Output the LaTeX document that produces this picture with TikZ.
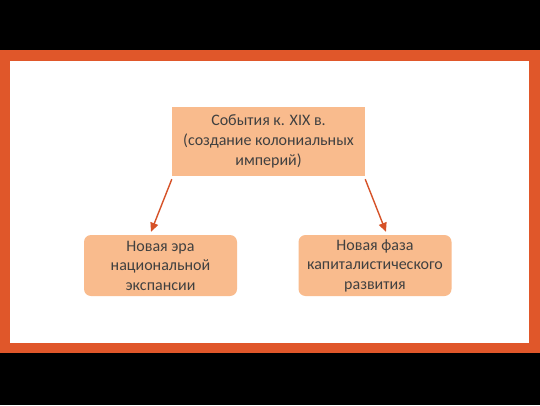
\documentclass[tikz,border=0pt]{standalone}
\usepackage{fontspec}
\setmainfont{Carlito}
\usepackage{tikz}
\usetikzlibrary{arrows.meta, positioning}
\definecolor{frameorange}{RGB}{224,87,42}
\definecolor{boxfill}{RGB}{249,187,141}
\definecolor{textgray}{RGB}{64,64,64}
\definecolor{arroworange}{RGB}{214,82,40}
\tikzstyle{topbox}=[rectangle, fill=boxfill, text=textgray, align=center, minimum width=193pt, minimum height=69pt, font=\fontsize{16}{20}\selectfont]
\tikzstyle{subbox}=[rectangle, rounded corners=7pt, fill=boxfill, text=textgray, align=center, minimum width=153pt, minimum height=61pt, font=\fontsize{16}{19.5}\selectfont]
\tikzstyle{link}=[draw=arroworange, line width=1.4pt, -{Triangle[length=9pt,width=8pt]}]

\begin{document}
\begin{tikzpicture}[x=1pt, y=1pt, node distance=124pt]
    % frame
    \fill[black] (0,0) rectangle (540,405);
    \useasboundingbox (0,0) rectangle (540,405);
    \fill[frameorange] (0,52) rectangle (540,355);
    \fill[white] (10,62) rectangle (529,344);

    \node[topbox] (ev) at (268.5,263.5) {События к. XIX в.\\(создание колониальных\\империй)};
    \node[subbox] (era) [below of=ev, xshift=-108pt] {Новая эра\\национальной\\экспансии};
    \node[subbox] (phase) [below of=ev, xshift=106.5pt] {Новая фаза\\капиталистического\\развития};

    \draw[link] ([yshift=-3pt]ev.south west) -- ([xshift=-9.5pt, yshift=3pt]era.north);
    \draw[link] ([yshift=-3pt]ev.south east) -- ([xshift=11pt, yshift=3pt]phase.north);
\end{tikzpicture}
\end{document}
